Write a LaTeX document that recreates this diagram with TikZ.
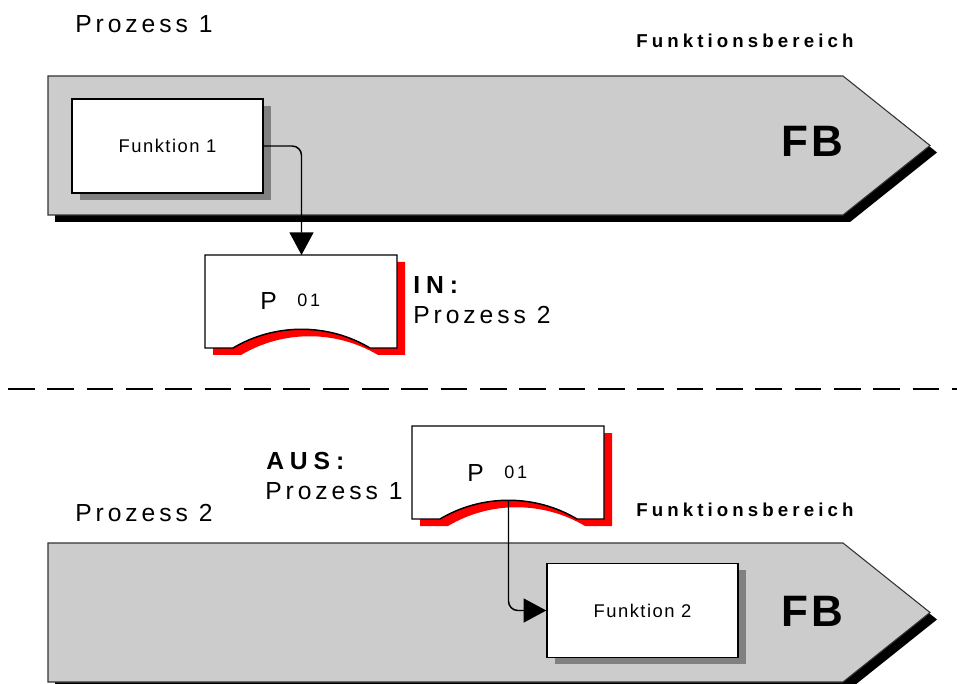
\documentclass[tikz,border=0pt]{standalone}
\usepackage{fontspec}
\setmainfont{Liberation Sans}
\newfontfamily\weit[LetterSpace=16]{Liberation Sans}
\newfontfamily\weitfett[LetterSpace=24]{Liberation Sans}
\newfontfamily\bereichfont[LetterSpace=22]{Liberation Sans}
\newfontfamily\eng[LetterSpace=8]{Liberation Sans}
\newfontfamily\fbfont[LetterSpace=8]{Liberation Sans}
\usepackage{xcolor}
\usepackage{tikz}
\usetikzlibrary{arrows.meta,shadows,calc}
\definecolor{fbgrau}{HTML}{CCCCCC}
\definecolor{schatten}{HTML}{808080}
\tikzset{
  funktion/.style={draw, line width=1.1pt, fill=white, inner sep=0pt,
    minimum width=143.25pt, minimum height=70.5pt,
    font=\eng\fontsize{13.8}{16}\selectfont,
    drop shadow={shadow xshift=6pt, shadow yshift=-5pt, fill=schatten, opacity=1}},
  fluss/.style={line width=1.1pt, rounded corners=7pt,
    -{Triangle[length=17pt, width=18pt]}},
  trenn/.style={line width=1.9pt, dash pattern=on 20pt off 9.5pt},
  beschr/.style={anchor=base west, inner sep=0pt},
  prozess/.style={beschr, font=\weit\fontsize{18.5}{20}\selectfont},
  marke/.style={beschr, font=\weitfett\bfseries\fontsize{18.5}{20}\selectfont},
  bereich/.style={beschr, font=\bereichfont\bfseries\fontsize{14}{16}\selectfont},
  kurz/.style={beschr, font=\fbfont\bfseries\fontsize{33}{36}\selectfont},
  % Funktionsbereich-Pfeil, Ecke oben links
  fbpfeil/.pic={
    \fill[black] (7,7) -- (802,7) -- (889,76.5) -- (802,146) -- (7,146) -- cycle;
    \draw[line width=0.8pt, draw=black!80, fill=fbgrau]
      (0,0) -- (795,0) -- (882,69.5) -- (795,139) -- (0,139) -- cycle;
  },
  % Prozessschnittstelle, Ecke oben links
  pform/.pic={
    \fill[red] (8,7) -- (200,7) -- (200,100) -- (173,100)
      .. controls (131,75) and (78,75) .. (36,100) -- (8,100) -- cycle;
    \draw[line width=1.1pt, fill=white] (0,0) -- (192,0) -- (192,93) -- (165,93)
      .. controls (123,68) and (70,68) .. (28,93) -- (0,93) -- cycle;
    \node[beschr, font=\fontsize{18.5}{20}\selectfont] at (55,55) {P};
    \node[beschr, font=\weit\fontsize{13.5}{14}\selectfont] at (92,52) {01};
    \coordinate (-top) at (96.5,0);
    \coordinate (-arc) at (96.5,74);
  },
}

\begin{document}
\begin{tikzpicture}[x = .75pt, y = -.75pt]
    \clip (0,0) rectangle (957,684);
    % Prozess 1
    \pic at (48,76) {fbpfeil};
    \node[funktion] (f1) at (167.5,146) {Funktion 1};
    \pic (p1) at (205,255) {pform};
    \draw[fluss] (f1.east) -| (p1-top);
    % Trennlinie
    \coordinate (trennL) at (8,389);
    \coordinate (trennR) at (957,389);
    \draw[trenn] (trennL) -- (trennR);
    % Prozess 2
    \pic at (48,543) {fbpfeil};
    \node[funktion] (f2) at (642.5,610.5) {Funktion 2};
    \pic (p2) at (412,426) {pform};
    \draw[fluss] (p2-arc) |- (f2.west);
        % Labels
    \node[prozess] (proz1) at (75,33) {Prozess 1};
    \node[bereich] (ber1) at (636,48) {Funktionsbereich};
    \node[kurz] (fb1) at (781,157) {FB};
    \node[marke] (in) at (413,294) {IN:};
    \node[prozess] (in2) at (413,324) {Prozess 2};
    \node[marke] (aus) at (266,469) {AUS:};
    \node[prozess] (aus1) at (265,499) {Prozess 1};
    \node[prozess] (proz2) at (75,521) {Prozess 2};
    \node[bereich] (ber2) at (636,516) {Funktionsbereich};
    \node[kurz] (fb2) at (781,626) {FB};
\end{tikzpicture}
\end{document}
